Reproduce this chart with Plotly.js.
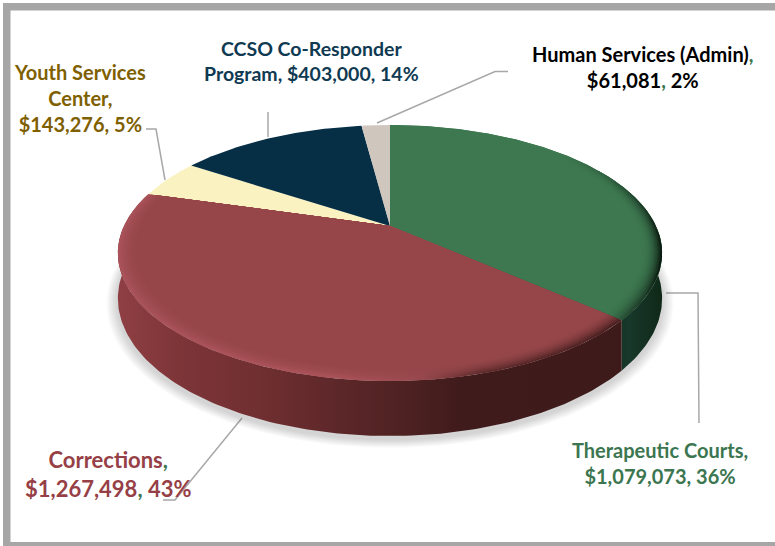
<!DOCTYPE html>
<html>
<head>
<meta charset="utf-8">
<script src="https://cdn.plot.ly/plotly-3.0.1.min.js"></script>
<style>html,body{margin:0;padding:0;background:#fff}#chart{width:775px;height:546px}</style>
</head>
<body>
<div id="chart"></div>
<script>
// Data, clockwise from 12 o'clock
const categories = ["Therapeutic Courts","Corrections","Youth Services Center","CCSO Co-Responder Program","Human Services (Admin)"];
const values = [1079073,1267498,143276,403000,61081];
const faceColors = ["#3d7850","#964649","#faf2c0","#062f46","#cfc6bd"];
const green = "#3b7650";
const labelTexts = [
  "Therapeutic Courts,<br>$1,079,073, 36%",
  'Corrections<span style="color:'+green+'">,</span><br>$1,267,498<span style="color:'+green+'">,</span> 43%',
  "Youth Services<br>Center,<br>$143,276, 5%",
  "CCSO Co-Responder<br>Program, $403,000, 14%",
  'Human Services (Admin)<span style="color:'+green+'">,</span><br>$61,081<span style="color:'+green+'">,</span> 2%'
];
const labelColors = ["#3b7650","#963f46","#7f6000","#0f3a52","#000000"];
const labelX = [660,108,80,311,643];
const labelY = [463,474,98,61,67];
const labelSizes = [20,22,20,19.5,20];

// perspective disc projected into pixel-like axes
const CX=390, CY=226, A=266, B=122.3, K=0.211, H=43.4;
function P(deg,r,level){
  const t=deg*Math.PI/180, X=r*Math.sin(t), Y=-r*Math.cos(t), d=1-K*Y;
  return [CX+A*X/d, CY+B*Y/d+H*level/d];
}
function arc(s,e,r,level){
  const xs=[],ys=[],n=Math.max(2,Math.ceil(Math.abs(e-s)));
  for(let i=0;i<=n;i++){const p=P(s+(e-s)*i/n,r,level);xs.push(p[0]);ys.push(p[1]);}
  return [xs,ys];
}
function hex(c){return [1,3,5].map(i=>parseInt(c.substr(i,2),16));}
function mix(a,b,w){const p=hex(a),q=hex(b);return "rgb("+p.map((v,i)=>Math.round(v+(q[i]-v)*w)).join(",")+")";}
const XMIN=118, XMAX=662;
function scale(stops){return stops.map(s=>[(s[0]-XMIN)/(XMAX-XMIN),s[1]]);}
function poly(xs,ys,fill,extra){
  return Object.assign({type:"scatter",mode:"lines",x:xs,y:ys,fill:"toself",fillcolor:fill,
    line:{width:0,color:"rgba(0,0,0,0)"},hoverinfo:"skip",showlegend:false},extra||{});
}

const total=values.reduce((a,b)=>a+b,0);
let acc=0;
const angles=values.map(v=>{const s=acc;acc+=v/total*360;return [s,acc];});
const traces=[];

// soft shadow under the disc
for(let i=0;i<9;i++){
  const r=1.04-i*0.0045, a=arc(0,360,r,1.06);
  traces.push(poly(a[0],a[1],"rgba(90,90,90,0.032)"));
}

// side walls
function wall(s,e,stops){
  const t=arc(s,e,1,0), b=arc(e,s,1,1);
  traces.push(poly(t[0].concat(b[0]),t[1].concat(b[1]),"#000",
    {fillgradient:{type:"horizontal",start:XMIN,stop:XMAX,colorscale:scale(stops)}}));
}
wall(60,angles[0][1],[[118,"#163522"],[600,"#163522"],[630,"#17382a"],[662,"#102818"]]);
wall(angles[1][0],angles[1][1],[[118,"#8f3f44"],[180,"#7d3538"],[270,"#6e2e30"],[350,"#5a2628"],[400,"#4f2222"],[460,"#401b1c"],[662,"#3d1a1a"]]);

// top faces
function wedge(i,r){
  const a=arc(angles[i][0],angles[i][1],r,0);
  return [[CX].concat(a[0],[CX]),[CY].concat(a[1],[CY])];
}
values.forEach((v,i)=>{const w=wedge(i,1);traces.push(poly(w[0],w[1],faceColors[i]));});

// rounded rim on the front faces
const rimStops={
  0:[[118,faceColors[0]],[560,faceColors[0]],[610,"#2e5e3e"],[645,"#1c3a26"],[662,"#0a1a10"]],
  1:[[118,"#a9525a"],[330,"#ab535a"],[420,"#98494e"],[480,"#5f2c2d"],[615,"#4a2020"],[662,"#4a2020"]]
};
const rings=9, rimW=0.07;
[0,1].forEach(i=>{
  for(let k=0;k<rings;k++){
    const t=k/rings, r=1-rimW*t, w=wedge(i,r), wt=Math.pow(1-t,2);
    const st=rimStops[i].map(s=>[s[0],mix(faceColors[i],s[1],wt)]);
    traces.push(poly(w[0],w[1],"#000",{fillgradient:{type:"horizontal",start:XMIN,stop:XMAX,colorscale:scale(st)}}));
  }
  const w=wedge(i,1-rimW);
  traces.push(poly(w[0],w[1],faceColors[i]));
});

const leaderColor="#a8a8a8";
const leaders=[
  "M666,293 L698,293 L699,423",
  "M163,500 L175,500 L242,418",
  "M146,129 L156,129 L165,180",
  "M268,112 L268,137",
  "M508,71.5 L495,71.5 L377,123"
];
const shapes=leaders.map(d=>({type:"path",xref:"x",yref:"y",path:d,line:{color:leaderColor,width:1.5},layer:"below"}));
// outer frame
[[3,3,775,10.5],[3,3,10.5,546],[3,542,775,546]].forEach(b=>shapes.push({type:"rect",xref:"x",yref:"y",x0:b[0],y0:b[1],x1:b[2],y1:b[3],fillcolor:"#a6a6a6",line:{width:0},layer:"below"}));

const annotations=categories.map((c,i)=>({
  xref:"x",yref:"y",x:labelX[i],y:labelY[i],text:labelTexts[i],showarrow:false,align:"center",
  xanchor:"center",yanchor:"middle",font:{family:"Lato, 'Open Sans', sans-serif",size:labelSizes[i],color:labelColors[i],weight:700}
}));

Plotly.newPlot("chart",traces,{
  width:775,height:546,margin:{l:0,r:0,t:0,b:0},paper_bgcolor:"#fff",plot_bgcolor:"#fff",showlegend:false,
  xaxis:{range:[0,775],visible:false,fixedrange:true},
  yaxis:{range:[546,0],visible:false,fixedrange:true},
  shapes:shapes,annotations:annotations
},{displayModeBar:false,staticPlot:true});
</script>
</body>
</html>
